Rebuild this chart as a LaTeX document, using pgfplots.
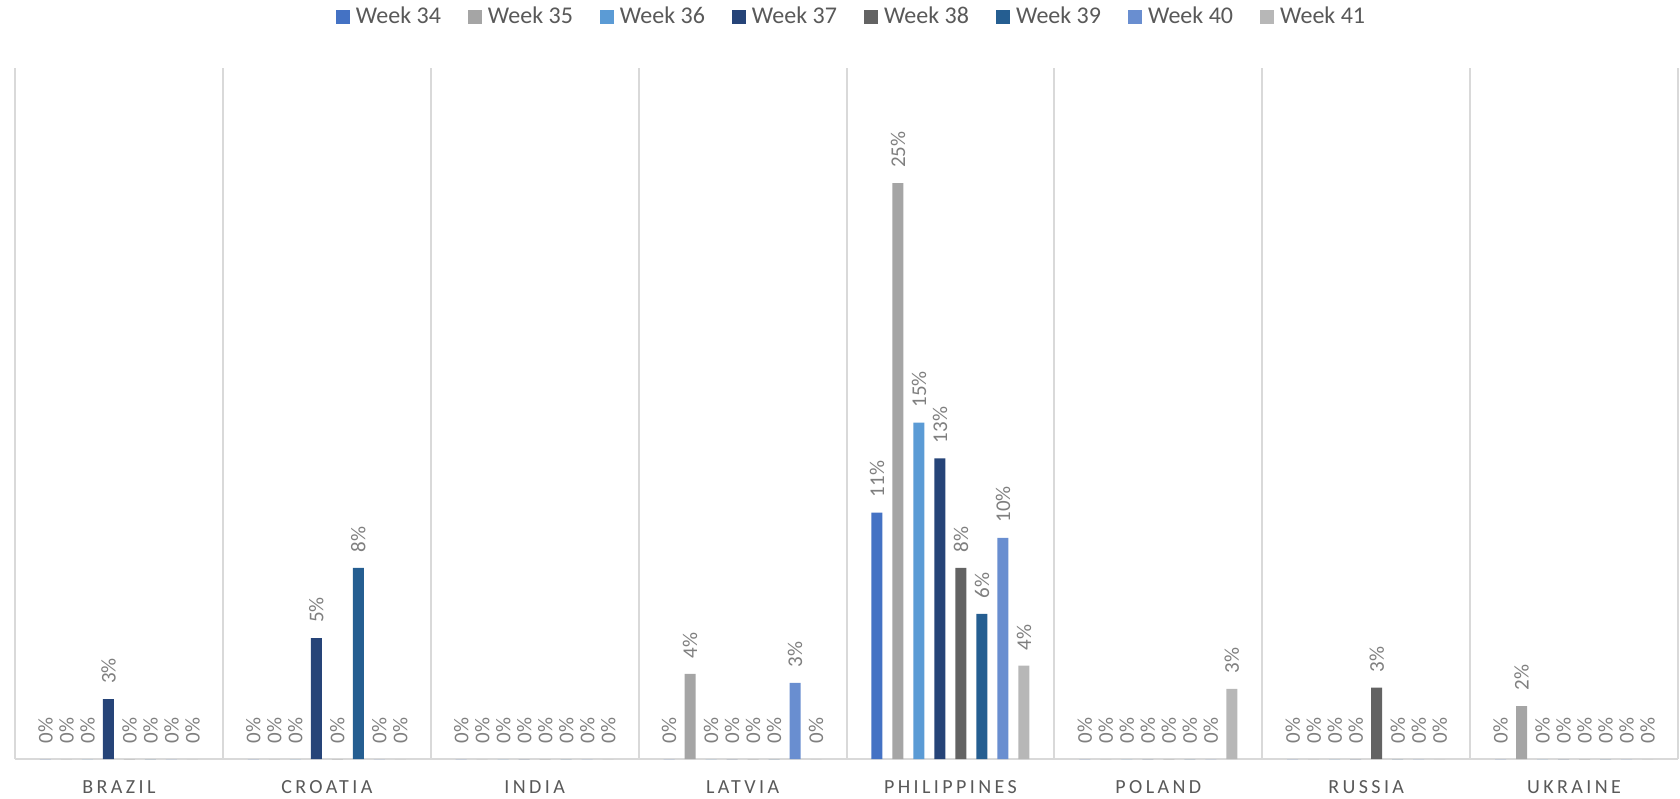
\documentclass[border=0pt]{standalone}
\usepackage{pgfplots}
\pgfplotsset{compat=1.18}
\usepackage{fontspec}
\setmainfont{Carlito}

\definecolor{wkA}{HTML}{4472C4}
\definecolor{wkB}{HTML}{A5A5A5}
\definecolor{wkC}{HTML}{5B9BD5}
\definecolor{wkD}{HTML}{264478}
\definecolor{wkE}{HTML}{636363}
\definecolor{wkF}{HTML}{255E91}
\definecolor{wkG}{HTML}{698ED0}
\definecolor{wkH}{HTML}{B7B7B7}
\definecolor{gridgray}{HTML}{D9D9D9}
\definecolor{labelgray}{HTML}{595959}
\definecolor{datagray}{HTML}{7F7F7F}

% one series per week, x = country index
% 0 Brazil, 1 Croatia, 2 India, 3 Latvia, 4 Philippines, 5 Poland, 6 Russia, 7 Ukraine
\begin{document}
\begin{tikzpicture}
\useasboundingbox (-7.5pt,-19.5pt) rectangle (832.5pt,379.5pt);
\begin{axis}[
    scale only axis,
    width=831.5pt, height=345.5pt,
    xmin=-0.5, xmax=7.5, ymin=0, ymax=30,
    ybar=5pt, bar width=5.5pt,
    axis y line=none,
    axis x line*=bottom,
    x axis line style={-, draw=gridgray, line width=1pt},
    xtick={0,...,7},
    xticklabels={BRAZIL,CROATIA,INDIA,LATVIA,PHILIPPINES,POLAND,RUSSIA,UKRAINE},
    xticklabel style={font=\fontsize{10}{12}\selectfont\addfontfeatures{LetterSpace=17}, text=labelgray, yshift=-7.4pt},
    major tick length=0pt, minor tick length=0pt,
    minor xtick={-0.5,0.5,...,7.5},
    xminorgrids=true,
    minor grid style={draw=gridgray, line width=1pt},
    ytick=\empty,
    clip=false,
    /pgf/number format/assume math mode=true,
    nodes near coords={\pgfmathprintnumber[fixed,precision=0]{\pgfplotspointmeta}\%},
    nodes near coords align=horizontal,
    every node near coord/.append style={rotate=90, anchor=west, inner xsep=7.5pt, inner ysep=0pt,
        font=\fontsize{10.5}{12}\selectfont, text=datagray},
    legend columns=8,
    legend image code/.code={\fill[#1] (0pt,-3.5pt) rectangle (7pt,3.5pt);},
    legend style={at={(0.5,1)}, anchor=center, yshift=25.5pt, xshift=3.5pt, draw=none,
        font=\fontsize{12}{14}\selectfont, text=labelgray,
        nodes={inner xsep=3pt},
        /tikz/every even column/.append style={column sep=10.5pt}},
]
\addplot[fill=wkA, draw=none] coordinates {(0,0) (1,0) (2,0) (3,0) (4,10.7) (5,0) (6,0) (7,0)};
\addplot[fill=wkB, draw=none] coordinates {(0,0) (1,0) (2,0) (3,3.7) (4,25.0) (5,0) (6,0) (7,2.3)};
\addplot[fill=wkC, draw=none] coordinates {(0,0) (1,0) (2,0) (3,0) (4,14.6) (5,0) (6,0) (7,0)};
\addplot[fill=wkD, draw=none] coordinates {(0,2.6) (1,5.25) (2,0) (3,0) (4,13.05) (5,0) (6,0) (7,0)};
\addplot[fill=wkE, draw=none] coordinates {(0,0) (1,0) (2,0) (3,0) (4,8.3) (5,0) (6,3.1) (7,0)};
\addplot[fill=wkF, draw=none] coordinates {(0,0) (1,8.3) (2,0) (3,0) (4,6.3) (5,0) (6,0) (7,0)};
\addplot[fill=wkG, draw=none] coordinates {(0,0) (1,0) (2,0) (3,3.3) (4,9.6) (5,0) (6,0) (7,0)};
\addplot[fill=wkH, draw=none] coordinates {(0,0) (1,0) (2,0) (3,0) (4,4.05) (5,3.05) (6,0) (7,0)};
\legend{Week 34,Week 35,Week 36,Week 37,Week 38,Week 39,Week 40,Week 41}
\end{axis}
\end{tikzpicture}
\end{document}
